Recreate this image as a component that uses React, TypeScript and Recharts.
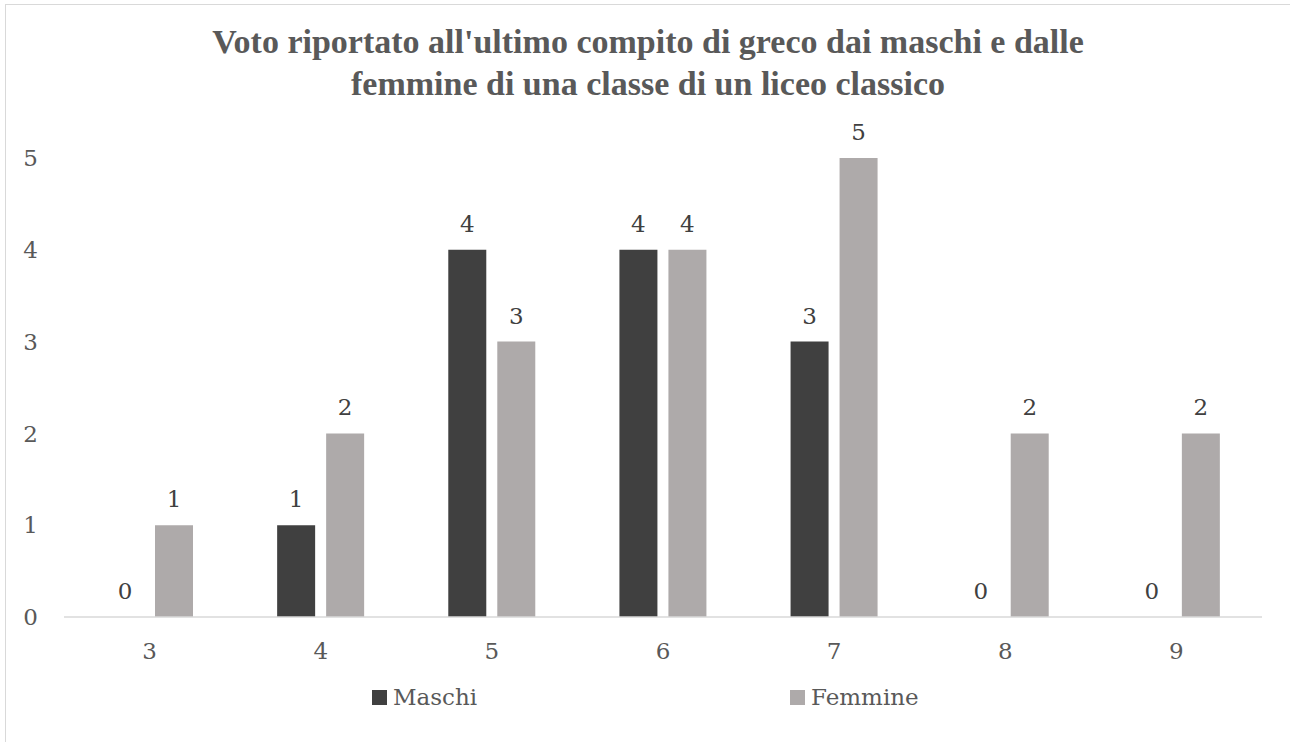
import { BarChart, Bar, XAxis, YAxis, LabelList, Legend } from 'recharts';

// voto (grade) on the x axis, number of students per gender
const grades = ['3', '4', '5', '6', '7', '8', '9'];
const maschi = [0, 1, 4, 4, 3, 0, 0];
const femmine = [1, 2, 3, 4, 5, 2, 2];
const yTicks = [0, 1, 2, 3, 4, 5];

const chartData = grades.map((voto, i) => ({
  voto,
  Maschi: maschi[i],
  Femmine: femmine[i],
}));

const FONT = '"DejaVu Serif", serif';
const TEXT = '#595959';
const COLORS = { Maschi: '#404040', Femmine: '#AEAAAA' };

function LegendContent() {
  const items = [
    { name: 'Maschi', color: COLORS.Maschi, width: 418 },
    { name: 'Femmine', color: COLORS.Femmine, width: 200 },
  ];
  return (
    <div style={{ display: 'flex', alignItems: 'center', height: 30, paddingLeft: 372 }}>
      {items.map(it => (
        <div key={it.name} style={{ display: 'flex', alignItems: 'center', width: it.width }}>
          <span style={{ display: 'inline-block', width: 15, height: 15, background: it.color, marginRight: 6 }} />
          <span style={{ fontFamily: FONT, fontSize: 23, color: TEXT }}>{it.name}</span>
        </div>
      ))}
    </div>
  );
}

export default function App() {
  return (
    <div style={{ position: 'fixed', left: 0, top: 0, width: 1290, height: 742, overflow: 'hidden', background: '#fff' }}>
      <div
        style={{
          position: 'absolute', left: 5, top: 4, width: 1300, height: 760,
          borderLeft: '1.5px solid #d9d9d9', borderTop: '1.5px solid #d9d9d9',
        }}
      />
      <div
        style={{
          position: 'absolute', left: 5, top: 21, width: 1286, textAlign: 'center',
          fontFamily: '"Liberation Serif", serif', fontWeight: 'bold', fontSize: 34,
          lineHeight: '42px', color: TEXT,
        }}
      >
        Voto riportato all'ultimo compito di greco dai maschi e dalle
        <br />
        femmine di una classe di un liceo classico
      </div>
      <div style={{ position: 'absolute', left: 0, top: 0 }}>
        <BarChart
          width={1290}
          height={742}
          data={chartData}
          margin={{ top: 158, right: 28, left: 0, bottom: 30 }}
          barSize={38}
          barGap={11}
        >
          <XAxis
            dataKey="voto"
            height={65}
            tickLine={false}
            tickSize={0}
            tickMargin={26}
            axisLine={{ stroke: '#d9d9d9', strokeWidth: 1.5 }}
            tick={{ fill: TEXT, fontSize: 23, fontFamily: FONT }}
          />
          <YAxis
            width={64}
            domain={[0, 5]}
            ticks={yTicks}
            axisLine={false}
            tickLine={false}
            tickSize={0}
            tickMargin={26}
            tick={{ fill: TEXT, fontSize: 23, fontFamily: FONT }}
          />
          <Legend verticalAlign="bottom" content={<LegendContent />} wrapperStyle={{ left: 0, width: 1290 }} />
          {/* tiny minPointSize keeps the zero bars so their "0" labels still show */}
          <Bar dataKey="Maschi" fill={COLORS.Maschi} minPointSize={0.01} isAnimationActive={false}>
            <LabelList dataKey="Maschi" position="top" offset={18} fill="#404040" fontSize={23} fontFamily={FONT} />
          </Bar>
          <Bar dataKey="Femmine" fill={COLORS.Femmine} minPointSize={0.01} isAnimationActive={false}>
            <LabelList dataKey="Femmine" position="top" offset={18} fill="#404040" fontSize={23} fontFamily={FONT} />
          </Bar>
        </BarChart>
      </div>
    </div>
  );
}
